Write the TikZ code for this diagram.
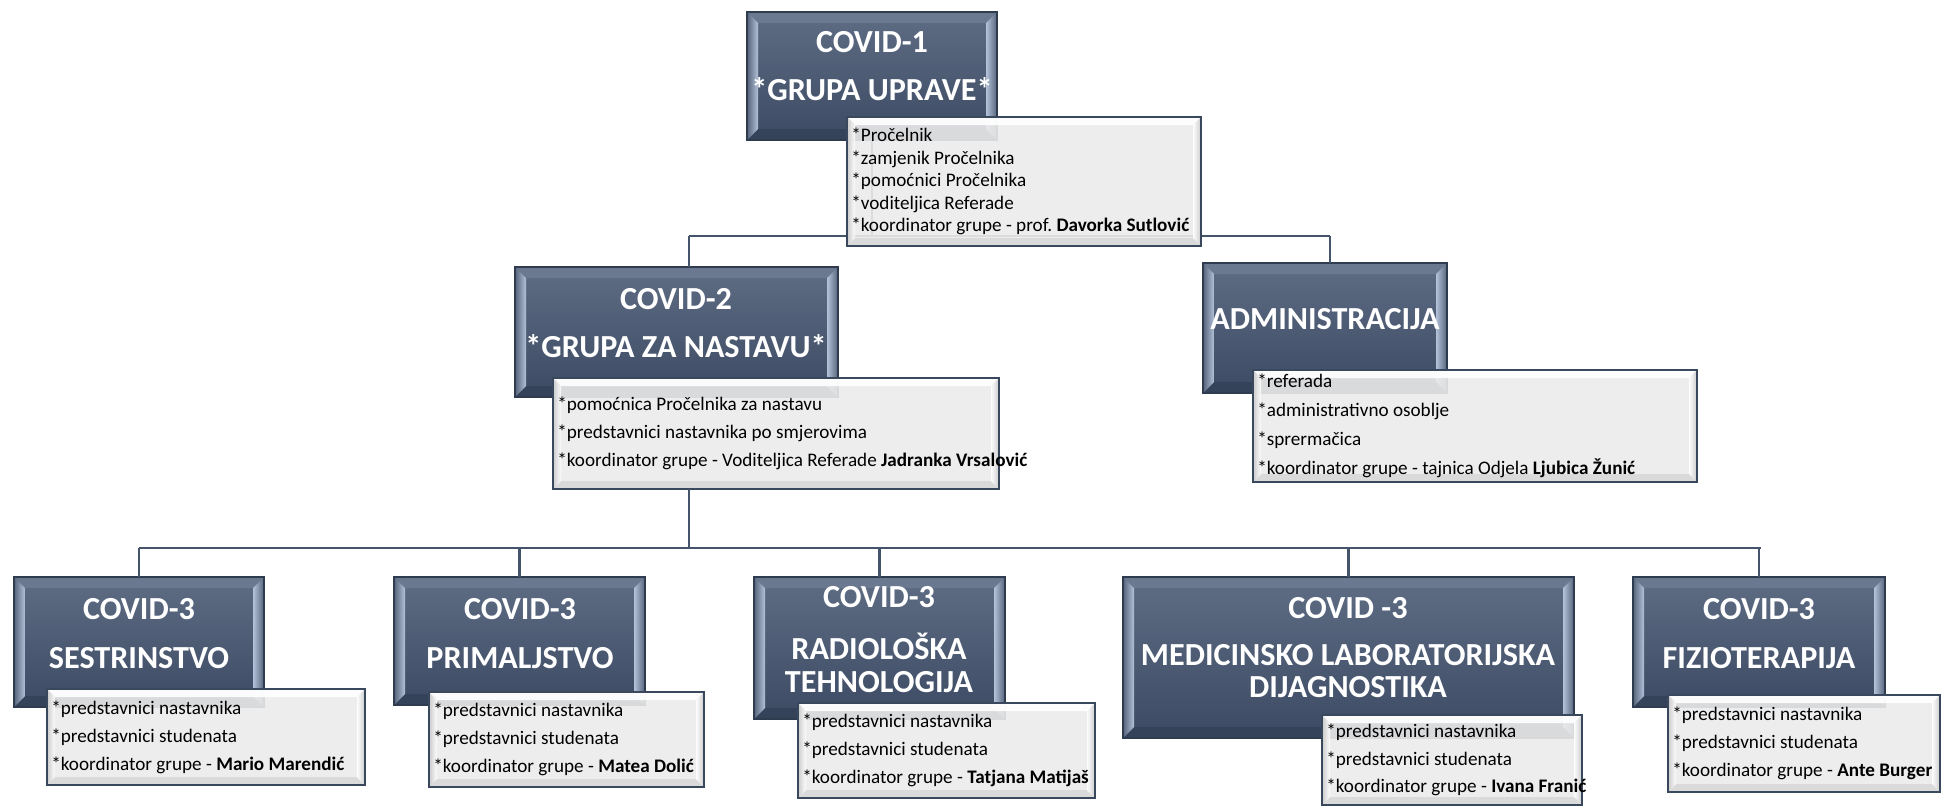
\documentclass[tikz,border=0pt]{standalone}
\usepackage{fontspec}
\setmainfont{Carlito}
\frenchspacing
\definecolor{dtop}{HTML}{5E6C84}
\definecolor{dbot}{HTML}{3C4A63}
\definecolor{dmid}{HTML}{55637B}
\definecolor{dedge}{HTML}{2F3B4F}
\definecolor{bevlight}{HTML}{B3C2D8}
\definecolor{bevtop}{HTML}{6A7890}
\definecolor{bevbot}{HTML}{34425A}
\definecolor{conncol}{HTML}{44546A}
\definecolor{nfill}{HTML}{EBEBEB}
\definecolor{nedge}{HTML}{3A485D}
\definecolor{nbev}{HTML}{C9C9C9}
\tikzset{
  conn/.style={draw=conncol, line width=1.6pt},
  darkbox/.style={draw=dedge, line width=0.6pt, top color=dtop, bottom color=dbot,
    inner sep=0pt, outer sep=0pt,
    path picture={
      \fill[bevtop] (path picture bounding box.north west) -- (path picture bounding box.north east)
        -- ([shift={(-0.22cm,-0.22cm)}]path picture bounding box.north east)
        -- ([shift={(0.22cm,-0.22cm)}]path picture bounding box.north west) -- cycle;
      \fill[bevbot] (path picture bounding box.south west) -- (path picture bounding box.south east)
        -- ([shift={(-0.22cm,0.22cm)}]path picture bounding box.south east)
        -- ([shift={(0.22cm,0.22cm)}]path picture bounding box.south west) -- cycle;
      \shade[left color=dmid, right color=bevlight] (path picture bounding box.south west)
        -- (path picture bounding box.north west)
        -- ([shift={(0.22cm,-0.22cm)}]path picture bounding box.north west)
        -- ([shift={(0.22cm,0.22cm)}]path picture bounding box.south west) -- cycle;
      \shade[right color=dmid, left color=bevlight] (path picture bounding box.south east)
        -- (path picture bounding box.north east)
        -- ([shift={(-0.22cm,-0.22cm)}]path picture bounding box.north east)
        -- ([shift={(-0.22cm,0.22cm)}]path picture bounding box.south east) -- cycle;
    }},
  notebox/.style={draw=nedge, line width=0.8pt, fill=nfill, fill opacity=0.9,
    inner sep=0pt, outer sep=0pt,
    path picture={
      \fill[white] (path picture bounding box.north west) -- (path picture bounding box.north east)
        -- ([shift={(-0.16cm,-0.16cm)}]path picture bounding box.north east)
        -- ([shift={(0.16cm,-0.16cm)}]path picture bounding box.north west) -- cycle;
      \fill[nbev!70] (path picture bounding box.south west) -- (path picture bounding box.south east)
        -- ([shift={(-0.16cm,0.16cm)}]path picture bounding box.south east)
        -- ([shift={(0.16cm,0.16cm)}]path picture bounding box.south west) -- cycle;
      \shade[left color=nbev, right color=white] (path picture bounding box.south west)
        -- (path picture bounding box.north west)
        -- ([shift={(0.16cm,-0.16cm)}]path picture bounding box.north west)
        -- ([shift={(0.16cm,0.16cm)}]path picture bounding box.south west) -- cycle;
      \shade[right color=nbev, left color=white] (path picture bounding box.south east)
        -- (path picture bounding box.north east)
        -- ([shift={(-0.16cm,-0.16cm)}]path picture bounding box.north east)
        -- ([shift={(-0.16cm,0.16cm)}]path picture bounding box.south east) -- cycle;
    }},
  notetext/.style={anchor=west, align=left, inner sep=0pt, text=black},
  ttl/.style={text=white, anchor=base, inner sep=0pt, font=\fontsize{18.3}{22}\selectfont\bfseries}
}
\newcommand{\dbox}[5]{%
  \pgfmathsetmacro\bw{(#4-#2)*0.02}%
  \pgfmathsetmacro\bh{(#5-#3)*0.02}%
  \node[darkbox, minimum width=\bw cm, minimum height=\bh cm] (#1) at ({(#2+#4)/2},{(#3+#5)/2}) {};}
\newcommand{\nbox}[7]{%
  \pgfmathsetmacro\bw{(#4-#2)*0.02}%
  \pgfmathsetmacro\bh{(#5-#3)*0.02}%
  \node[notebox, minimum width=\bw cm, minimum height=\bh cm] (#1) at ({(#2+#4)/2},{(#3+#5)/2}) {};
  \node[notetext, font=\fontsize{10.9}{#6}\selectfont] (#1t) at ([xshift=0.08cm]#1.west) {#7};}
\newcommand{\nl}{\\{}}
\begin{document}
\begin{tikzpicture}[x=0.02cm, y=-0.02cm]
\useasboundingbox (0,0) rectangle (1944,806);
% junction coordinates
\coordinate (j1) at (872,236);
\coordinate (j1l) at (689,236);
\coordinate (j1r) at (1330,236);
\coordinate (j2) at (689,548);
\coordinate (j2l) at (139,548);
\coordinate (j2r) at (1761,548);
% boxes
\dbox{D1}{747}{12}{997}{140}
\dbox{D2}{515}{267}{838}{397}
\dbox{DA}{1203}{263}{1447}{393}
\dbox{D3a}{14}{577}{264}{707}
\dbox{D3b}{394}{577}{645}{705}
\dbox{D3c}{754}{577}{1005}{719}
\dbox{D3d}{1123}{577}{1574}{738}
\dbox{D3e}{1633}{577}{1885}{707}
% connectors
\draw[conn] (D1.south) -- (j1);
\draw[conn] (j1l) -- (j1r);
\draw[conn] (j1l) -- (j1l |- D2.north);
\draw[conn] (j1r) -- (j1r |- DA.north);
\draw[conn] (j2l) -- (j2r);
\draw[conn] (D3a.north) -- (D3a.north |- j2);
\draw[conn] (D3b.north) -- (D3b.north |- j2);
\draw[conn] (D3c.north) -- (D3c.north |- j2);
\draw[conn] (D3d.north) -- (D3d.north |- j2);
\draw[conn] (D3e.north) -- (D3e.north |- j2);
% titles
\node[ttl] (t1a) at (872,52) {COVID-1};
\node[ttl] (t1b) at (872,100) {*GRUPA UPRAVE*};
\node[ttl] (t2a) at (676,309) {COVID-2};
\node[ttl] (t2b) at (676,357) {*GRUPA ZA NASTAVU*};
\node[ttl] (tAa) at (1325,329) {ADMINISTRACIJA};
\node[ttl] (t3aa) at (139,619) {COVID-3};
\node[ttl] (t3ab) at (139,668) {SESTRINSTVO};
\node[ttl] (t3ba) at (520,619) {COVID-3};
\node[ttl] (t3bb) at (520,668) {PRIMALJSTVO};
\node[ttl] (t3ca) at (879,607) {COVID-3};
\node[ttl] (t3cb) at (879,659) {RADIOLOŠKA};
\node[ttl] (t3cc) at (879,692) {TEHNOLOGIJA};
\node[ttl] (t3da) at (1348,618) {COVID -3};
\node[ttl] (t3db) at (1348,665) {MEDICINSKO LABORATORIJSKA};
\node[ttl] (t3dc) at (1348,697) {DIJAGNOSTIKA};
\node[ttl] (t3ea) at (1759,619) {COVID-3};
\node[ttl] (t3eb) at (1759,668) {FIZIOTERAPIJA};
% notes
\nbox{N1}{847}{117}{1201}{246}{12.75pt}{*Pročelnik\nl*zamjenik Pročelnika\nl*pomoćnici Pročelnika\nl*voditeljica Referade\nl*koordinator grupe - prof. \textbf{Davorka Sutlović}}
\nbox{N2}{553}{378}{999}{489}{15.9pt}{*pomoćnica Pročelnika za nastavu\nl*predstavnici nastavnika po smjerovima\nl*koordinator grupe - Voditeljica Referade \textbf{Jadranka Vrsalović}}
\nbox{NA}{1253}{370}{1697}{482}{16.4pt}{*referada\nl*administrativno osoblje\nl*sprermačica\nl*koordinator grupe - tajnica Odjela \textbf{Ljubica Žunić}}
\nbox{N3a}{47}{689}{365}{785}{15.9pt}{*predstavnici nastavnika\nl*predstavnici studenata\nl*koordinator grupe - \textbf{Mario Marendić}}
\nbox{N3b}{429}{692}{704}{787}{15.9pt}{*predstavnici nastavnika\nl*predstavnici studenata\nl*koordinator grupe - \textbf{Matea Dolić}}
\nbox{N3c}{798}{703}{1095}{798}{15.9pt}{*predstavnici nastavnika\nl*predstavnici studenata\nl*koordinator grupe - \textbf{Tatjana Matijaš}}
\nbox{N3d}{1322}{715}{1582}{805}{15.5pt}{*predstavnici nastavnika\nl*predstavnici studenata\nl*koordinator grupe - \textbf{Ivana Franić}}
\nbox{N3e}{1668}{695}{1940}{792}{15.9pt}{*predstavnici nastavnika\nl*predstavnici studenata\nl*koordinator grupe - \textbf{Ante Burger}}
% connector from N2 down to the bottom bar
\draw[conn] (j2 |- N2.south) -- (j2);
\end{tikzpicture}
\end{document}
